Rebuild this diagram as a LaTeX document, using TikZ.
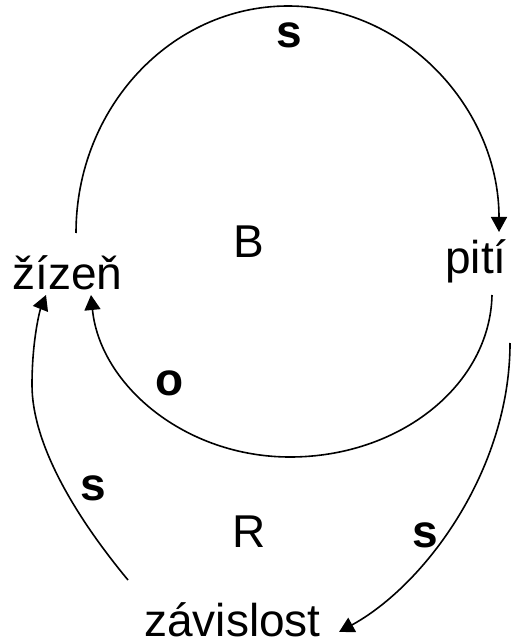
\documentclass[tikz,border=0pt]{standalone}
\usepackage{fontspec}
\setmainfont{Liberation Sans}
\usetikzlibrary{arrows.meta,calc}
\begin{document}
\begin{tikzpicture}[x=0.5pt,y=-0.5pt,line width=0.8pt,
  >={Triangle[length=7.5pt,width=8pt]},
  every node/.style={font=\fontsize{23}{27}\selectfont,inner sep=0pt,anchor=base},
  pol/.style={font=\fontsize{23}{27}\selectfont\bfseries}]
\useasboundingbox (0,0) rectangle (512,641);
\node (zizen) at (67.5,289) {žízeň};
\node (piti) at (476,273) {pití};
\node (zavislost) at (232.5,636) {závislost};
\node (b) at (248.5,257) {B};
\node (r) at (249,547) {R};
\node[pol] (s1) at (289.5,48) {s};
\node[pol] (o) at (170,395) {o};
\node[pol] (s2) at (93.5,500) {s};
\node[pol] (s3) at (425,547) {s};
\draw[->] ($(zizen.base)+(8.5,-56)$) .. controls (76,108) and (171,6) .. (288,6) .. controls (404,6) and (499,108) .. ($(piti.base)+(23,-41)$);
\draw[->] ($(piti.base)+(16,22)$) .. controls (490,385) and (400,457) .. (290,457) .. controls (185,457) and (100,385) .. ($(zizen.base)+(23.5,6)$);
\draw[->] ($(zavislost.base)+(-104.5,-56)$) .. controls (70,510) and (32,440) .. (32,385) .. controls (32,340) and (40,310) .. ($(zizen.base)+(-21.5,6)$);
\draw[->] ($(piti.base)+(34,70)$) .. controls (510,470) and (425,585) .. ($(zavislost.base)+(106.5,-4)$);
\end{tikzpicture}
\end{document}
